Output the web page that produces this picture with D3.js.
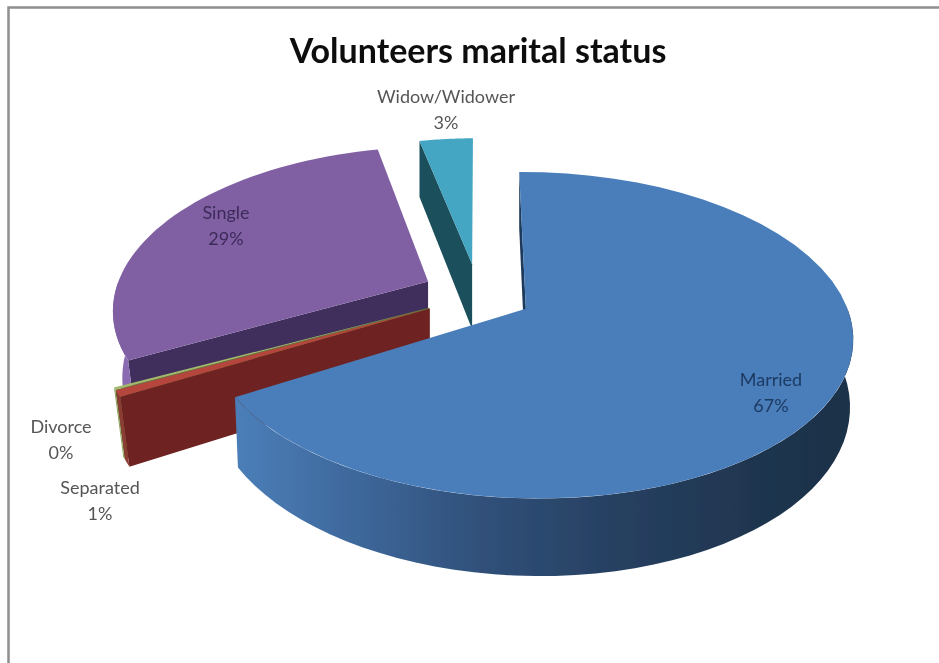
<!DOCTYPE html>
<html><head><meta charset="utf-8">
<style>html,body{margin:0;padding:0;background:#fff}svg{display:block}text{font-family:Lato,"Open Sans",sans-serif}</style>
<script src="https://cdn.jsdelivr.net/npm/d3@7"></script></head>
<body><svg id="c" width="939" height="663"></svg>
<script>
// data
const categories = ["Married","Separated","Divorce","Single","Widow/Widower"];
const shares     = [66.4, 0.6, 0.2, 29.4, 3.4];
const percentLabels = ["67%","1%","0%","29%","3%"];
const titleText = "Volunteers marital status";

// style / layout
const topColors   = ["#4a7ebb","#b5453c","#a3b86a","#8061a3","#44a6c4"];
const startColors = ["#1f3a5c","#6e2320","#5f7a35","#3f2f5c","#1a4f5c"];
const arcColors   = ["url(#mside)","#8c3a34","#8f9f5a","#8a6bb0","#1a4f5c"];
const labelColors = ["#1d3a63","#555","#555","#3c2a5a","#555"];
const labelAt = [[771,386],[100,494],[61,433],[226,219],[446,103]];
const radiusFactor = [1,1.03,1.03,0.985,0.92];
const bottomShrink = [0.99,0.97,0.97,0.97,1];
const angleNudge = [0,1,1,0,0];           // degrees, explosion tilt of the thin slices

const W=939,H=663, DEG=Math.PI/180;
const cx=478, cy=294, ex=55, ey=30;      // pie centre, explosion (screen px)
const R=318, Rk=159, p=0.162, q=0.01, D=65;

const svg=d3.select("#c");
const defs=svg.append("defs");
const g=defs.append("linearGradient").attr("id","mside").attr("gradientUnits","userSpaceOnUse")
  .attr("x1",232).attr("x2",856).attr("y1",0).attr("y2",0);
[[0,"#4c7fb9"],[.18,"#3f6a9e"],[.38,"#31527c"],[.58,"#284265"],[.8,"#203752"],[1,"#1d3148"]]
  .forEach(s=>g.append("stop").attr("offset",s[0]).attr("stop-color",s[1]));
const blur=defs.append("filter").attr("id","soft").attr("x","-5%").attr("y","-5%").attr("width","110%").attr("height","110%");
blur.append("feGaussianBlur").attr("stdDeviation",0.5);

svg.append("rect").attr("width",W).attr("height",H).attr("fill","#fff");
svg.append("path").attr("d","M8.5,663V7.5H939").attr("fill","none").attr("stroke","#8f8f8f").attr("stroke-width",2.5).attr("filter","url(#soft)");

const arcs=d3.pie().sort(null).value(d=>d)(shares).map((a,i)=>({
  ...a, startAngle:a.startAngle+angleNudge[i]*DEG, endAngle:a.endAngle+angleNudge[i]*DEG
}));

function projector(a,i){
  const mid=(a.startAngle+a.endAngle)/2;
  const ax=cx+ex*Math.sin(mid), ay=cy-ey*Math.cos(mid);
  const rf=radiusFactor[i];
  return (ang,r,z)=>{
    const u=r*Math.sin(ang), v=-Math.cos(ang)*r;   // v>0 = towards the viewer
    const f=1/(1-p*v-q*u);
    const s=z?bottomShrink[i]:1;
    return [cx+(ax-cx+R*rf*u*s)*f, ay+Rk*rf*v*f+(z?D*f:0)];
  };
}
function range(a,b){return d3.range(0,49).map(i=>a+(b-a)*i/48);}
const line=d3.line();
const root=svg.append("g").attr("filter","url(#soft)");

// painter's order: back slices first, Married last
[4,3,2,1,0].forEach(i=>{
  const a=arcs[i], P=projector(a,i);
  const el=root.append("g").attr("class","slice").datum(a);
  el.append("path").attr("fill",startColors[i])
    .attr("d",line([P(a.startAngle,0,0),P(a.startAngle,1,0),P(a.startAngle,1,1),P(a.startAngle,0,1)])+"Z");
  const lo=Math.max(a.startAngle,Math.PI/2), hi=Math.min(a.endAngle,1.5*Math.PI);
  if(hi>lo){
    const t=range(lo,hi);
    el.append("path").attr("fill",arcColors[i])
      .attr("d",line(t.map(x=>P(x,1,0)).concat(t.slice().reverse().map(x=>P(x,1,1))))+"Z");
  }
  const t=range(a.startAngle,a.endAngle);
  el.append("path").attr("fill",topColors[i])
    .attr("d",line([P(a.startAngle,0,0)].concat(t.map(x=>P(x,1,0))))+"Z");
});

// texts
const textG=svg.append("g").attr("filter","url(#soft)");
textG.append("text").attr("x",478).attr("y",63).attr("text-anchor","middle")
  .attr("font-size",34).attr("font-weight",700).attr("fill","#111").text(titleText);
categories.forEach((c,i)=>{
  const [x,y]=labelAt[i];
  const t=textG.append("text").attr("text-anchor","middle").attr("font-size",18).attr("fill",labelColors[i]);
  t.append("tspan").attr("x",x).attr("y",y).text(c);
  t.append("tspan").attr("x",x).attr("y",y+25.5).text(percentLabels[i]);
});
</script></body></html>
